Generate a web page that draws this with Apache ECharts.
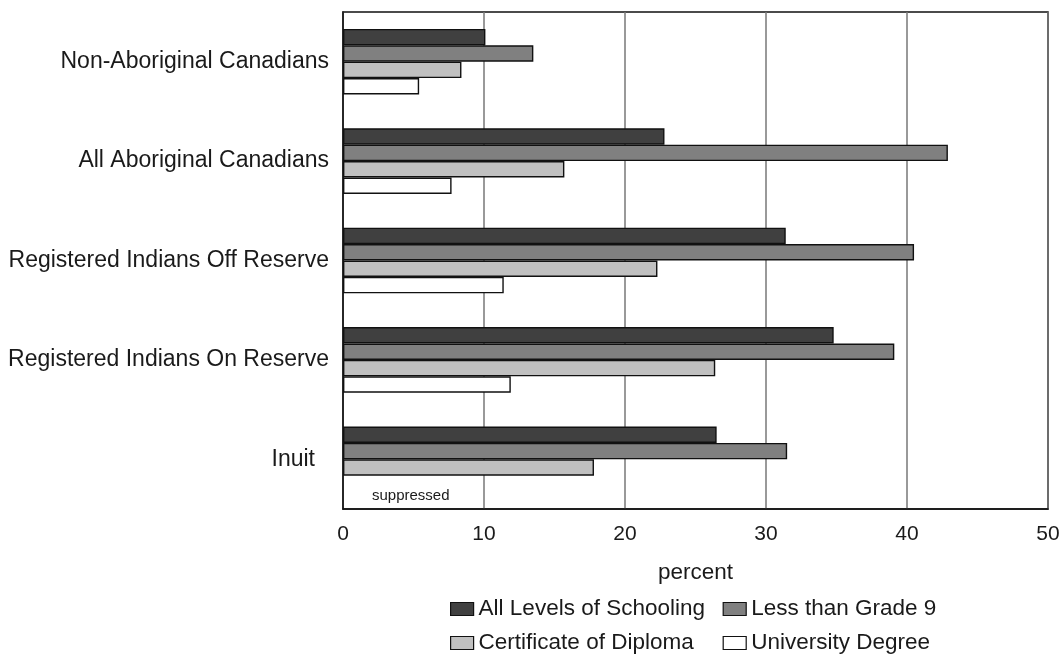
<!DOCTYPE html>
<html>
<head>
<meta charset="utf-8">
<script src="https://cdn.jsdelivr.net/npm/echarts@6/dist/echarts.min.js"></script>
<style>html,body{margin:0;padding:0;background:#fff;}#c{width:1064px;height:656px;}</style>
</head>
<body>
<div id="c"></div>
<script>
var categories = ['Non-Aboriginal Canadians', 'All Aboriginal Canadians', 'Registered Indians Off Reserve', 'Registered Indians On Reserve', 'Inuit'];
var seriesNames = ['All Levels of Schooling', 'Less than Grade 9', 'Certificate of Diploma', 'University Degree'];
var allLevels = [10.1, 22.8, 31.4, 34.8, 26.5];
var lessGrade9 = [13.5, 42.9, 40.5, 39.1, 31.5];
var certificate = [8.4, 15.7, 22.3, 26.4, 17.8];
var university = [5.4, 7.7, 11.4, 11.9, null];
var xTicks = [0, 10, 20, 30, 40, 50];
var suppressedNote = 'suppressed';

var colors = ['#404040', '#808080', '#c0c0c0', '#ffffff'];
var FONT = 'Liberation Sans, Arial, sans-serif';

var chart = echarts.init(document.getElementById('c'), null, {renderer: 'canvas'});

function mkSeries(idx, values) {
  var data = values.map(function (v, i) {
    if (v === null) {
      return {
        value: 0,
        itemStyle: {borderWidth: 0},
        label: {
          show: true, position: 'right', distance: 29, offset: [0, 12],
          formatter: suppressedNote, fontSize: 15, color: '#1a1a1a', fontFamily: FONT
        }
      };
    }
    return v;
  });
  return {
    name: seriesNames[idx], type: 'bar', data: data,
    barGap: '0%', barCategoryGap: '34%',
    itemStyle: {color: colors[idx], borderColor: '#111', borderWidth: 1.4},
    emphasis: {disabled: true},
    animation: false
  };
}

var yData = categories.map(function (c, i) {
  if (i === categories.length - 1) return {value: c, textStyle: {padding: [0, 14, 0, 0]}};
  return c;
});

chart.setOption({
  animation: false,
  backgroundColor: '#fff',
  grid: {left: 343, right: 16, top: 12, bottom: 147, show: true, borderColor: '#111', borderWidth: 1.5, backgroundColor: 'transparent'},
  xAxis: {
    type: 'value', min: xTicks[0], max: xTicks[xTicks.length - 1], interval: 10,
    name: 'percent', nameLocation: 'middle', nameGap: 52,
    nameTextStyle: {fontSize: 22.5, color: '#1a1a1a', fontFamily: FONT},
    axisLine: {show: true, lineStyle: {color: '#111', width: 1.5}},
    axisTick: {show: false},
    axisLabel: {fontSize: 21, color: '#1a1a1a', fontFamily: FONT, margin: 15},
    splitLine: {show: true, lineStyle: {color: '#777', width: 1.5}}
  },
  yAxis: {
    type: 'category', data: yData, inverse: true,
    axisLine: {show: true, lineStyle: {color: '#111', width: 1.5}},
    axisTick: {show: false},
    axisLabel: {fontSize: 23, color: '#1a1a1a', fontFamily: FONT, margin: 14},
    splitLine: {show: false}
  },
  legend: {
    left: 450, top: 597, width: 580, padding: 0,
    itemWidth: 23, itemHeight: 13, itemGap: 10,
    icon: 'rect',
    data: seriesNames,
    textStyle: {fontSize: 22.5, color: '#1a1a1a', fontFamily: FONT, width: 234, lineHeight: 24},
    itemStyle: {borderColor: '#111', borderWidth: 1.2}
  },
  series: [
    mkSeries(0, allLevels),
    mkSeries(1, lessGrade9),
    mkSeries(2, certificate),
    mkSeries(3, university)
  ]
});
</script>
</body>
</html>
